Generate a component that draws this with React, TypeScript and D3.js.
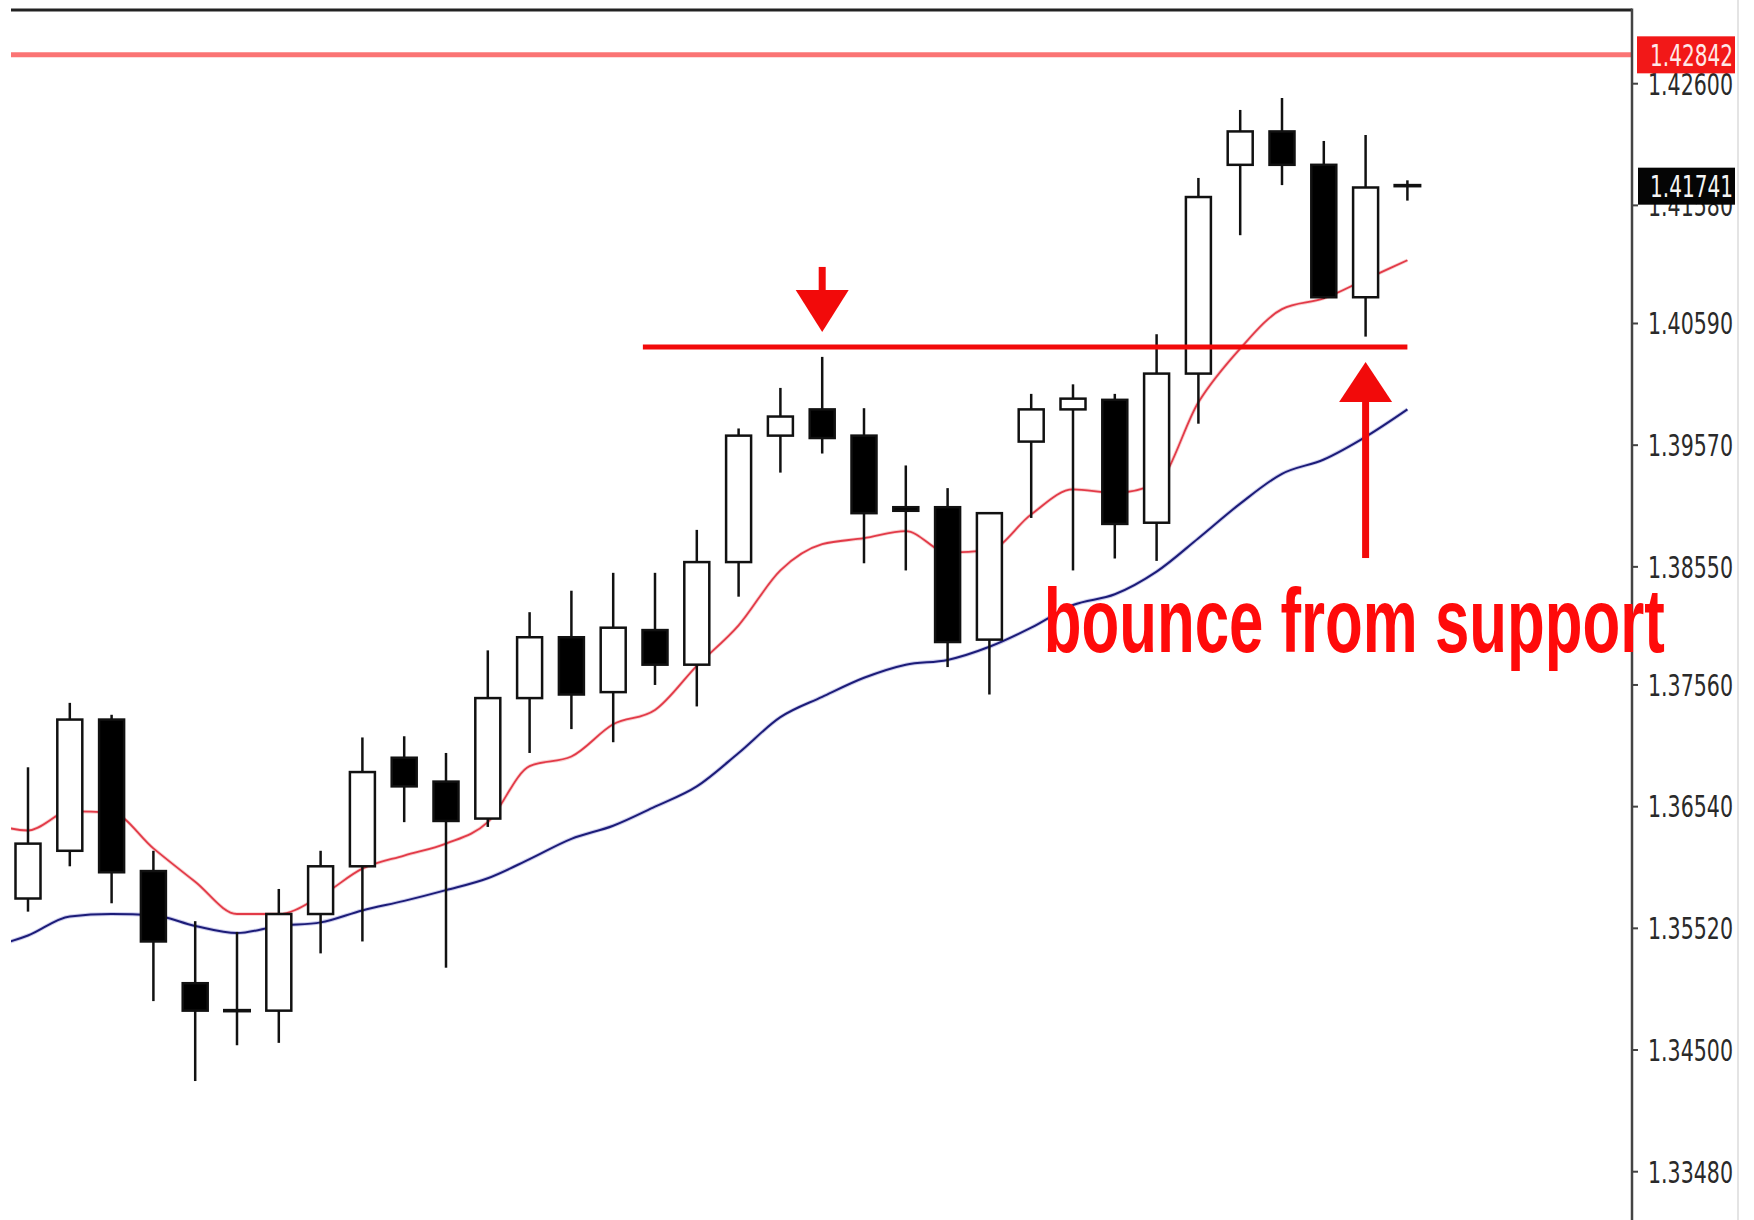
import React from 'react';
import * as d3 from 'd3';

// candles, left to right (index 1..34)
const opens = [
  1.3577, 1.3617, 1.3727, 1.36, 1.3506, 1.3483, 1.3483, 1.3564, 1.3604, 1.3695, 1.3675, 1.3644,
  1.3745, 1.3796, 1.375, 1.3802, 1.3773, 1.3859, 1.3965, 1.3987, 1.3965, 1.3905, 1.3905, 1.3794,
  1.396, 1.3987, 1.3995, 1.3892, 1.4017, 1.4192, 1.422, 1.4192, 1.4081, 1.4175,
];
const highs = [
  1.3687, 1.3741, 1.3731, 1.3617, 1.3558, 1.3549, 1.3585, 1.3617, 1.3712, 1.3713, 1.3699, 1.3785,
  1.3817, 1.3835, 1.385, 1.385, 1.3886, 1.3971, 1.4005, 1.4031, 1.3988, 1.394, 1.3921, 1.39,
  1.4, 1.4008, 1.4, 1.405, 1.4181, 1.4238, 1.4248, 1.4212, 1.4217, 1.4179,
];
const lows = [
  1.3566, 1.3604, 1.3573, 1.3491, 1.3424, 1.3454, 1.3456, 1.3531, 1.3541, 1.3641, 1.3519, 1.3637,
  1.3699, 1.3719, 1.3708, 1.3756, 1.3738, 1.383, 1.3934, 1.395, 1.3858, 1.3852, 1.3771, 1.3748,
  1.3896, 1.3852, 1.3862, 1.386, 1.3975, 1.4133, 1.4175, 1.408, 1.4048, 1.4162,
];
const closes = [
  1.3623, 1.3727, 1.3599, 1.3541, 1.3483, 1.3483, 1.3564, 1.3604, 1.3683, 1.3671, 1.3642, 1.3745,
  1.3796, 1.3748, 1.3804, 1.3773, 1.3859, 1.3965, 1.3981, 1.3963, 1.39, 1.3902, 1.3792, 1.39,
  1.3987, 1.3996, 1.3891, 1.4017, 1.4165, 1.422, 1.4192, 1.4081, 1.4173, 1.41741,
];

// moving averages, index 0 is the bar just left of the visible window
const fastMA = [
  1.3642, 1.3634, 1.365, 1.3649, 1.3619, 1.3591, 1.3564, 1.3564, 1.3579, 1.3602, 1.3613, 1.3623,
  1.3641, 1.3688, 1.3696, 1.3723, 1.3735, 1.3772, 1.3806, 1.3852, 1.3874, 1.3879, 1.3885, 1.3867,
  1.3869, 1.3899, 1.392, 1.3917, 1.3925, 1.3993, 1.4038, 1.4071, 1.408, 1.4096, 1.4112,
];
const slowMA = [
  1.3535, 1.3546, 1.3562, 1.3564, 1.3563, 1.3554, 1.3548, 1.3554, 1.3557, 1.3567, 1.3575, 1.3584,
  1.3594, 1.361, 1.3627, 1.3638, 1.3654, 1.3671, 1.3699, 1.3729, 1.3746, 1.3762, 1.3773, 1.3777,
  1.3788, 1.3804, 1.3823, 1.3832, 1.3851, 1.3879, 1.3908, 1.3933, 1.3945, 1.3964, 1.3987,
];

const tickValues = [1.426, 1.4158, 1.4059, 1.3957, 1.3855, 1.3756, 1.3654, 1.3552, 1.345, 1.3348];
const tickLabels = ['1.42600', '1.41580', '1.40590', '1.39570', '1.38550', '1.37560', '1.36540', '1.35520', '1.34500', '1.33480'];

const resistancePrice = 1.42842;
const resistanceLabel = '1.42842';
const lastLabel = '1.41741';
const supportPrice = 1.40393;
const annotation = 'bounce from support';

const W = 1754;
const H = 1220;
const plotLeft = 11;
const plotRight = 1632;
const plotTop = 10;

export default function App() {
  const x = d3.scaleLinear().domain([1, 34]).range([28, 1407.4]);
  const y = d3.scaleLinear().domain([1.3348, 1.426]).range([1171.7, 83.7]);
  const bodyW = 25;

  const maLine = d3
    .line<number>()
    .x((_, i) => x(i))
    .y((d) => y(d))
    .curve(d3.curveMonotoneX);

  const candles = opens.map((o, i) => ({
    i: i + 1,
    o,
    h: highs[i],
    l: lows[i],
    c: closes[i],
  }));

  const red = '#f20a0a';
  const axisFont = { fontFamily: '"DejaVu Sans", Tahoma, sans-serif', fontSize: 30 };

  // arrows
  const downX = x(20);
  const upX = x(33);
  const half = 26.5;

  return (
    <svg
      width={W}
      height={H}
      viewBox={`0 0 ${W} ${H}`}
      style={{ position: 'absolute', left: 0, top: 0, background: '#fff' }}
    >
      <defs>
        <clipPath id="plot">
          <rect x={plotLeft} y={plotTop} width={plotRight - plotLeft} height={H - plotTop} />
        </clipPath>
      </defs>
      <rect width={W} height={H} fill="#fff" />

      <g clipPath="url(#plot)">
        {/* resistance level */}
        <line x1={plotLeft} x2={plotRight} y1={y(resistancePrice)} y2={y(resistancePrice)} stroke="#fb7474" strokeWidth={5} />

        {/* moving averages */}
        <path d={maLine(slowMA) || ''} fill="none" stroke="#9090d8" strokeWidth={4} opacity={0.45} />
        <path d={maLine(slowMA) || ''} fill="none" stroke="#1c1c78" strokeWidth={2} />
        <path d={maLine(fastMA) || ''} fill="none" stroke="#f4a0a0" strokeWidth={3.5} opacity={0.5} />
        <path d={maLine(fastMA) || ''} fill="none" stroke="#e23a48" strokeWidth={1.8} />

        {/* candles */}
        {candles.map((d) => {
          const cx = x(d.i);
          const top = y(Math.max(d.o, d.c));
          const bot = y(Math.min(d.o, d.c));
          const up = d.c > d.o;
          const doji = bot - top < 3;
          return (
            <g key={d.i}>
              <line x1={cx} x2={cx} y1={y(d.h)} y2={y(d.l)} stroke="#111" strokeWidth={2.5} />
              {doji ? (
                <rect x={cx - 14} y={(top + bot) / 2 - 1.8} width={28} height={3.6} fill="#111" />
              ) : (
                <rect
                  x={cx - bodyW / 2}
                  y={top}
                  width={bodyW}
                  height={bot - top}
                  fill={up ? '#fff' : '#000'}
                  stroke="#111"
                  strokeWidth={2.5}
                />
              )}
            </g>
          );
        })}
      </g>

      {/* frame */}
      <line x1={plotLeft} x2={plotRight} y1={plotTop} y2={plotTop} stroke="#222" strokeWidth={3} />
      <line x1={plotRight} x2={plotRight} y1={plotTop - 1.5} y2={H} stroke="#444" strokeWidth={2.5} />
      <line x1={1738} x2={1738} y1={0} y2={H} stroke="#e4e4e4" strokeWidth={2} />

      {/* price axis */}
      {tickValues.map((v, i) => (
        <g key={tickLabels[i]}>
          <line x1={plotRight} x2={plotRight + 6} y1={y(v)} y2={y(v)} stroke="#444" strokeWidth={2} />
          <text
            x={1648}
            y={y(v)}
            dy="0.36em"
            fill="#2a2a2a"
            textLength={85}
            lengthAdjust="spacingAndGlyphs"
            style={axisFont}
          >
            {tickLabels[i]}
          </text>
        </g>
      ))}

      {/* price markers */}
      <rect x={1637} y={y(resistancePrice) - 18.5} width={98} height={37} fill="#f21818" />
      <text x={1650} y={y(resistancePrice)} dy="0.36em" fill="#ffe8e8" textLength={83} lengthAdjust="spacingAndGlyphs" style={axisFont}>
        {resistanceLabel}
      </text>
      <rect x={1638} y={y(closes[closes.length - 1]) - 18.5} width={97} height={37} fill="#050505" />
      <text x={1650} y={y(closes[closes.length - 1])} dy="0.36em" fill="#f4f4f4" textLength={83} lengthAdjust="spacingAndGlyphs" style={axisFont}>
        {lastLabel}
      </text>

      {/* support line */}
      <line x1={x(15.71)} x2={x(34)} y1={y(supportPrice)} y2={y(supportPrice)} stroke={red} strokeWidth={5} />

      {/* down arrow */}
      <rect x={downX - 3.5} y={y(1.41064)} width={7} height={y(1.40871) - y(1.41064) + 2} fill={red} />
      <path
        d={`M${downX - half},${y(1.40871)} L${downX + half},${y(1.40871)} L${downX},${y(1.40519)} Z`}
        fill={red}
      />

      {/* up arrow */}
      <rect x={upX - 3.5} y={y(1.39932) - 2} width={7} height={y(1.38624) - y(1.39932) + 2} fill={red} />
      <path
        d={`M${upX - half},${y(1.39932)} L${upX + half},${y(1.39932)} L${upX},${y(1.40267)} Z`}
        fill={red}
      />

      <text
        x={x(25.3)}
        y={y(1.3784)}
        fill="#ff0a0a"
        fontFamily='"Liberation Sans", Arial, sans-serif'
        fontWeight="bold"
        fontSize={90}
        textLength={621}
        lengthAdjust="spacingAndGlyphs"
      >
        {annotation}
      </text>
    </svg>
  );
}
